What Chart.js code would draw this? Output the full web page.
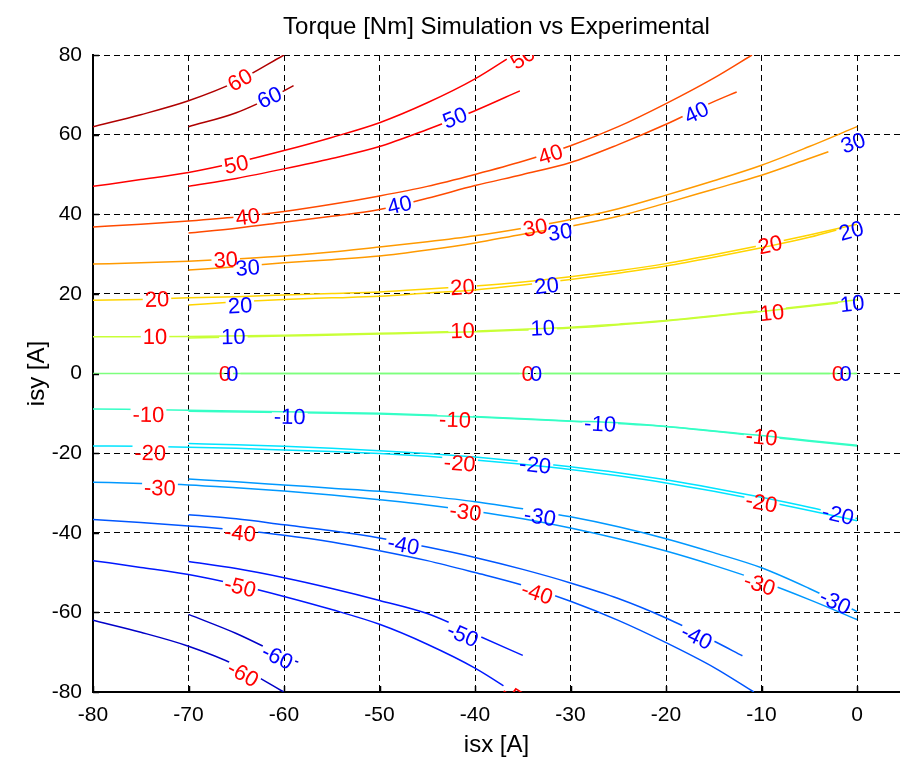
<!DOCTYPE html>
<html>
<head>
<meta charset="utf-8">
<title>Torque contours</title>
<script src="https://cdn.jsdelivr.net/npm/chart.js@4.4.1/dist/chart.umd.min.js"></script>
<style>
    body { margin: 0; background: #fff; }
    canvas { display: block; }
</style>
</head>
<body>
<canvas id="torque_chart" width="900" height="762"></canvas>
<script>
// axis ticks
const isxTicks = [-80, -70, -60, -50, -40, -30, -20, -10, 0];
const isyTicks = [-80, -60, -40, -20, 0, 20, 40, 60, 80];
const levels = [60, 50, 40, 30, 20, 10, 0, -10, -20, -30, -40, -50, -60];

// simulation contours, [isx, isy]
const sim60 = [[-80, 62], [-75, 65], [-70, 68.5], [-65, 73.3], [-60, 80]];
const sim50 = [[-80, 47], [-75, 48.7], [-70, 50.5], [-65, 53], [-60, 56], [-55, 59.3], [-50, 63], [-45, 68], [-40, 74], [-36, 80]];
const sim40 = [[-80, 36.8], [-75, 37.5], [-70, 38.3], [-65, 39.3], [-60, 40.7], [-55, 42.5], [-50, 44.6], [-45, 47], [-40, 50], [-35, 53.3], [-30, 57.2], [-25, 62], [-20, 67.8], [-15, 74.2], [-11, 80]];
const sim30 = [[-80, 27.5], [-75, 27.8], [-70, 28.2], [-65, 28.8], [-60, 29.5], [-55, 30.5], [-50, 31.8], [-45, 33.1], [-40, 34.6], [-35, 36.5], [-30, 38.7], [-25, 41.4], [-20, 44.8], [-15, 48.4], [-10, 52.3], [-5, 57], [0, 62]];
const sim20 = [[-80, 18.4], [-75, 18.6], [-70, 19], [-65, 19.3], [-60, 19.7], [-55, 20.1], [-50, 20.5], [-45, 21.2], [-40, 22], [-35, 23], [-30, 24.3], [-25, 25.8], [-20, 27.6], [-15, 29.8], [-10, 32.2], [-5, 34.8], [0, 37.5]];
const sim10 = [[-80, 9.2], [-70, 9.3], [-60, 9.6], [-50, 10.1], [-40, 10.7], [-30, 11.6], [-25, 12.4], [-20, 13.3], [-15, 14.5], [-10, 15.8], [-5, 17.1], [0, 18.5]];
const sim0 = [[-80, 0], [0, 0]];
const simM10 = [[-80, -8.9], [-70, -9.2], [-60, -9.6], [-50, -10], [-40, -10.8], [-30, -11.9], [-25, -12.4], [-20, -13.3], [-15, -14.5], [-10, -15.8], [-5, -17], [0, -18.2]];
const simM20 = [[-80, -18.2], [-75, -18.3], [-70, -18.5], [-65, -18.8], [-60, -19.2], [-55, -19.6], [-50, -20.1], [-45, -20.8], [-40, -21.7], [-35, -22.8], [-30, -24.1], [-25, -25.7], [-20, -27.5], [-15, -29.6], [-10, -31.9], [-5, -34.4], [0, -37]];
const simM30 = [[-80, -27.3], [-75, -27.6], [-70, -28], [-65, -28.7], [-60, -29.5], [-55, -30.5], [-50, -31.7], [-45, -33], [-40, -34.6], [-35, -36.5], [-30, -38.8], [-25, -41.5], [-20, -44.6], [-15, -48.2], [-10, -52.2], [-5, -56.8], [0, -61.8]];
const simM40 = [[-80, -36.7], [-75, -37.4], [-70, -38.3], [-65, -39.3], [-60, -40.6], [-55, -42.3], [-50, -44.5], [-45, -47], [-40, -50], [-35, -53.2], [-30, -57.2], [-25, -62], [-20, -67.6], [-15, -73.8], [-10.8, -80]];
const simM50 = [[-80, -47], [-75, -48.7], [-70, -50.5], [-65, -53], [-60, -56], [-55, -59.3], [-50, -63], [-45, -68], [-40, -74], [-36, -80]];
const simM60 = [[-80, -62], [-75, -65], [-70, -68.5], [-65, -73.3], [-60, -80]];

// experimental contours, [isx, isy]
const exp60 = [[-70, 62], [-65, 65.5], [-60, 71], [-59, 72.3]];
const exp50 = [[-70, 47], [-65, 49], [-60, 51.4], [-55, 54], [-50, 57], [-45, 61.3], [-40, 66], [-35.3, 71]];
const exp40 = [[-70, 35.3], [-65, 36.5], [-60, 38], [-55, 39.5], [-50, 41.2], [-45, 44], [-40, 47.2], [-35, 50], [-30, 53], [-25, 57.5], [-20, 62.6], [-15, 68.3], [-12.6, 70.7]];
const exp30 = [[-70, 26], [-65, 26.8], [-60, 27.8], [-55, 28.6], [-50, 29.5], [-45, 31], [-40, 32.8], [-35, 35], [-30, 37], [-25, 39.5], [-20, 42.8], [-15, 46.3], [-10, 49.8], [-5, 54], [-3, 55.7]];
const exp20 = [[-70, 17.2], [-65, 18], [-60, 18.6], [-55, 19], [-50, 19.4], [-45, 20.2], [-40, 21], [-35, 22.2], [-30, 23.6], [-25, 25.2], [-20, 27], [-15, 29.2], [-10, 31.6], [-5, 34.2], [-1, 36.8]];
const exp10 = [[-70, 8.9], [-60, 9.4], [-50, 9.9], [-40, 10.5], [-30, 11.4], [-20, 13.2], [-10, 15.6], [-5, 16.9], [0, 18.2]];
const exp0 = [[-70, 0], [0, 0]];
const expM10 = [[-70, -9.5], [-60, -9.8], [-50, -10.2], [-40, -10.9], [-30, -12], [-20, -13.3], [-10, -15.6], [-5, -16.8], [0, -18]];
const expM20 = [[-70, -17.6], [-65, -17.9], [-60, -18.3], [-55, -18.8], [-50, -19.4], [-45, -20.1], [-40, -21], [-35, -22.1], [-30, -23.4], [-25, -24.9], [-20, -26.7], [-15, -28.8], [-10, -31.1], [-5, -33.6], [0, -36.4]];
const expM30 = [[-70, -26.5], [-65, -27.2], [-60, -28], [-55, -28.8], [-50, -29.6], [-45, -30.8], [-40, -32.2], [-35, -34], [-30, -36], [-25, -38.5], [-20, -41.5], [-15, -45], [-10, -48.8], [-5, -54], [0, -59.8]];
const expM40 = [[-70, -35.5], [-65, -36.5], [-60, -38], [-55, -39.5], [-50, -41.3], [-45, -43.6], [-40, -46.2], [-35, -49.2], [-30, -52.6], [-25, -56.5], [-20, -61.4], [-15, -67.2], [-12, -70.9]];
const expM50 = [[-70, -47.2], [-65, -49], [-60, -51.3], [-55, -54], [-50, -57], [-45, -60.3], [-40, -65.5], [-35, -70.8]];
const expM60 = [[-70, -60.5], [-65, -65.3], [-60, -71], [-58.5, -72.5]];

// contour labels, [level, isx, isy]
const simLabels = [
    [60, -64.6, 73.7], [50, -65, 52.5], [50, -35, 79.3],
    [40, -63.8, 39.3], [40, -32.1, 55],
    [30, -66.1, 28.5], [30, -33.7, 36.6],
    [20, -73.3, 18.6], [20, -41.3, 21.6], [20, -9.1, 32.3],
    [10, -73.5, 9.2], [10, -41.3, 10.7], [10, -8.9, 15.2],
    [0, -66.2, 0], [0, -34.5, 0], [0, -2, 0],
    [-10, -74.2, -10.4], [-10, -42.1, -11.7], [-10, -10, -16],
    [-20, -74, -20], [-20, -41.6, -22.6], [-20, -10, -32.5],
    [-30, -73, -28.8], [-30, -41, -34.8], [-30, -10.2, -53],
    [-40, -64.6, -40.1], [-40, -33.5, -55.2],
    [-50, -64.6, -53.6], [-50, -35.6, -81.5],
    [-60, -64.3, -75.5]
];
const expLabels = [
    [60, -61.5, 69.3], [50, -42.1, 64.2],
    [40, -47.9, 42.3], [40, -16.8, 65.5],
    [30, -63.8, 26.5], [30, -31.1, 35.5], [30, -0.4, 57.9],
    [20, -64.6, 17], [20, -32.5, 22], [20, -0.6, 35.8],
    [10, -65.3, 9.2], [10, -32.9, 11.4], [10, -0.5, 17.5],
    [0, -65.4, 0], [0, -33.6, 0], [0, -1.2, 0],
    [-10, -59.4, -10.9], [-10, -26.9, -12.7],
    [-20, -33.7, -23], [-20, -2, -35.5],
    [-30, -33.2, -36], [-30, -2.3, -57.4],
    [-40, -47.5, -43.1], [-40, -16.8, -66.2],
    [-50, -41.3, -65.7],
    [-60, -60.7, -71.2]
];

const simCurves = [sim60, sim50, sim40, sim30, sim20, sim10, sim0, simM10, simM20, simM30, simM40, simM50, simM60];
const expCurves = [exp60, exp50, exp40, exp30, exp20, exp10, exp0, expM10, expM20, expM30, expM40, expM50, expM60];

// jet-like colour per level
const levelColors = {
    "60": "#b00000", "50": "#ff0000", "40": "#ff4a00", "30": "#ff9a00", "20": "#ffd400",
    "10": "#c8ff36", "0": "#7dff7d", "-10": "#35ffc6", "-20": "#00e4ff", "-30": "#0098ff",
    "-40": "#0056ff", "-50": "#0018ff", "-60": "#0000c8"
};
const labelColors = { sim: "#ff0000", exp: "#0000ff" };
const fontFamily = "'Liberation Sans', Arial, sans-serif";
const labelFont = "22px " + fontFamily;
const titleFont = "24px " + fontFamily;

const datasets = [];
levels.forEach((level, i) => {
    datasets.push({ set: "sim", level: level, curve: simCurves[i], data: simCurves[i].map(p => ({ x: p[0], y: p[1] })), borderColor: levelColors[level] });
    datasets.push({ set: "exp", level: level, curve: expCurves[i], data: expCurves[i].map(p => ({ x: p[0], y: p[1] })), borderColor: levelColors[level] });
});

// pixel position and angle of a label, following its own contour line
labelGeometry = (chart, curve, lab) => {
    const xs = chart.scales.x, ys = chart.scales.y;
    let i = 0;
    while (i < curve.length - 2 && curve[i + 1][0] < lab[1]) i++;
    const x1 = xs.getPixelForValue(curve[i][0]), y1 = ys.getPixelForValue(curve[i][1]);
    const x2 = xs.getPixelForValue(curve[i + 1][0]), y2 = ys.getPixelForValue(curve[i + 1][1]);
    return {
        x: xs.getPixelForValue(lab[1]),
        y: ys.getPixelForValue(lab[2]),
        angle: Math.atan2(y2 - y1, x2 - x1)
    };
}

labelsFor = (ds) => (ds.set === "sim" ? simLabels : expLabels).filter(l => l[0] === ds.level);

const contourLabels = {
    id: "contourLabels",
    beforeDatasetDraw(chart, args) {
        const ctx = chart.ctx;
        const ds = chart.data.datasets[args.index];
        ctx.save();
        // cut the line where its labels sit
        ctx.font = labelFont;
        ctx.beginPath();
        ctx.rect(0, 0, chart.width, chart.height);
        labelsFor(ds).forEach(lab => {
            const g = labelGeometry(chart, ds.curve, lab);
            const w = ctx.measureText(String(lab[0])).width / 2 + 2;
            const h = 9;
            const c = Math.cos(g.angle), s = Math.sin(g.angle);
            const pts = [[-w, -h], [w, -h], [w, h], [-w, h]].map(p => [g.x + p[0] * c - p[1] * s, g.y + p[0] * s + p[1] * c]);
            ctx.moveTo(pts[0][0], pts[0][1]);
            pts.slice(1).forEach(p => ctx.lineTo(p[0], p[1]));
            ctx.closePath();
        });
        ctx.clip("evenodd");
    },
    afterDatasetDraw(chart) {
        chart.ctx.restore();
    },
    afterDatasetsDraw(chart) {
        const ctx = chart.ctx;
        const area = chart.chartArea;
        ctx.save();
        ctx.beginPath();
        ctx.rect(area.left, area.top, area.right - area.left, area.bottom - area.top);
        ctx.clip();
        ctx.font = labelFont;
        ctx.textAlign = "center";
        ctx.textBaseline = "middle";
        chart.data.datasets.forEach(ds => {
            labelsFor(ds).forEach(lab => {
                const g = labelGeometry(chart, ds.curve, lab);
                ctx.save();
                ctx.translate(g.x, g.y);
                ctx.rotate(g.angle);
                ctx.fillStyle = labelColors[ds.set];
                ctx.fillText(String(lab[0]), 0, 1);
                ctx.restore();
            });
        });
        ctx.restore();
    },
    afterDraw(chart) {
        const ctx = chart.ctx;
        const area = chart.chartArea;
        const xs = chart.scales.x, ys = chart.scales.y;
        ctx.save();
        // inward tick marks
        ctx.strokeStyle = "#000";
        ctx.lineWidth = 1.5;
        ctx.beginPath();
        isxTicks.forEach(v => {
            const px = Math.round(xs.getPixelForValue(v)) + 0.5;
            ctx.moveTo(px, area.bottom);
            ctx.lineTo(px, area.bottom - 6);
        });
        isyTicks.forEach(v => {
            const py = Math.round(ys.getPixelForValue(v)) + 0.5;
            ctx.moveTo(area.left, py);
            ctx.lineTo(area.left + 6, py);
        });
        ctx.stroke();
        // title and axis titles
        const midX = (area.left + area.right) / 2;
        ctx.fillStyle = "#000";
        ctx.font = titleFont;
        ctx.textAlign = "center";
        ctx.textBaseline = "middle";
        ctx.fillText("Torque [Nm] Simulation vs Experimental", midX, 27);
        ctx.fillText("isx [A]", midX, 745);
        ctx.translate(37, (area.top + area.bottom) / 2);
        ctx.rotate(-Math.PI / 2);
        ctx.fillText("isy [A]", 0, 0);
        ctx.restore();
    }
};

const axisFont = { family: fontFamily, size: 21 };

new Chart("torque_chart", {
    type: "line",
    data: { datasets: datasets },
    options: {
        responsive: false,
        animation: false,
        devicePixelRatio: 1,
        layout: { padding: { top: 55, left: 0, right: 0, bottom: 0 } },
        elements: {
            point: { radius: 0 },
            line: { borderWidth: 1.5, cubicInterpolationMode: "monotone", fill: false }
        },
        plugins: {
            legend: { display: false },
            tooltip: { enabled: false },
            title: { display: false }
        },
        scales: {
            x: {
                type: "linear",
                min: -80,
                max: 4.5,
                afterBuildTicks: scale => { scale.ticks = isxTicks.map(v => ({ value: v })); },
                afterFit: scale => { scale.height = 70; },
                grid: { color: "#000", lineWidth: 1, drawTicks: false },
                border: { display: true, color: "#000", width: 2, dash: [6, 4] },
                ticks: { color: "#000", font: axisFont, padding: 11, maxRotation: 0 }
            },
            y: {
                type: "linear",
                min: -80,
                max: 80,
                afterBuildTicks: scale => { scale.ticks = isyTicks.map(v => ({ value: v })); },
                afterFit: scale => { scale.width = 93; },
                grid: { color: "#000", lineWidth: 1, drawTicks: false },
                border: { display: true, color: "#000", width: 2, dash: [6, 4] },
                ticks: { color: "#000", font: axisFont, padding: 11 }
            }
        }
    },
    plugins: [contourLabels]
});
</script>
</body>
</html>
